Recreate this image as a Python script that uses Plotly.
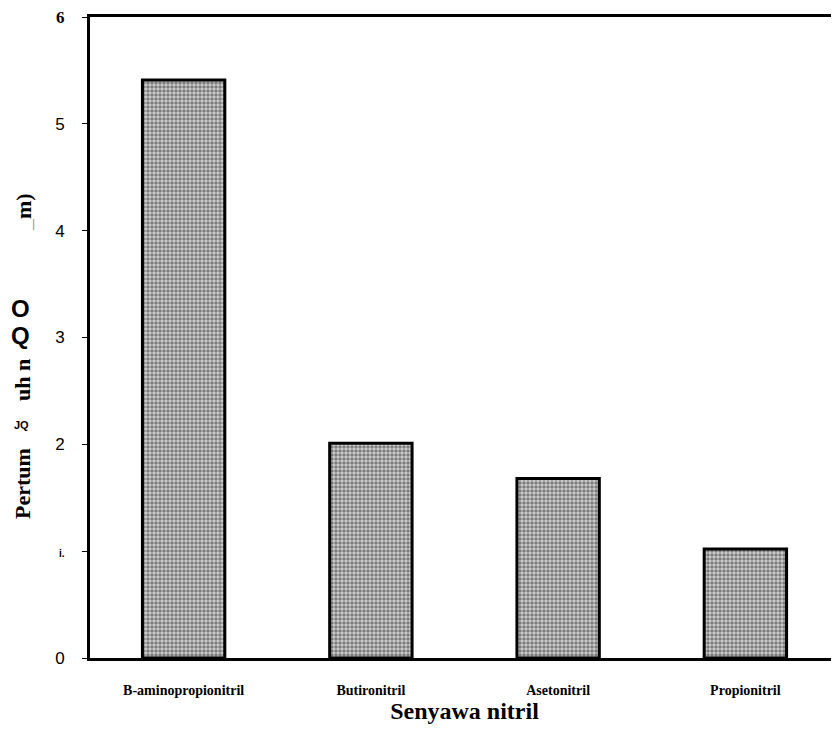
import plotly.graph_objects as go

categories = ["B-aminopropionitril", "Butironitril", "Asetonitril", "Propionitril"]
values = [5.41, 2.01, 1.68, 1.02]
ytick_vals = [0, 1, 2, 3, 4, 5, 6]
ytick_text = ["0", "<span style='font-size:10px'><b>i.</b></span>", "2", "3", "4", "5",
              "<span style='font-family:Liberation Serif;font-weight:bold;font-size:17px'>6</span>"]
x_title = "Senyawa nitril"

# page body has an 8px offset; figure sized so its right/bottom meet the window edge
OFF = 8
W, H = 831, 740
L, R, T, B = 82, 0, 9, 90
pw, ph = W - L - R, H - T - B

def px(sx):
    return (sx - OFF - L) / pw

def py(sy):
    return (H - B - (sy - OFF)) / ph

fig = go.Figure()
fig.add_trace(go.Bar(
    x=categories, y=values,
    marker=dict(
        color="#8c8c8c",
        line=dict(color="black", width=3),
        pattern=dict(shape=".", size=4, solidity=0.6, fgcolor="#262626", bgcolor="#d2d2d2"),
    ),
    width=0.44,
))

serif = "Liberation Serif, Times New Roman, serif"
ann = [
    dict(text="<b>Pertum</b>", x=px(22), y=py(484), textangle=-90,
         font=dict(family=serif, size=22, color="black")),
    dict(text="<b>JQ</b>", x=px(21), y=py(425), textangle=0,
         font=dict(family="Liberation Sans, Arial", size=11, color="black")),
    dict(text="<b>uh n</b>", x=px(22), y=py(380), textangle=-90,
         font=dict(family=serif, size=22, color="black")),
    dict(text="<b>Q</b>", x=px(20), y=py(335), textangle=0,
         font=dict(family="Liberation Sans, Arial", size=24, color="black")),
    dict(text="<b>O</b>", x=px(20), y=py(308), textangle=0,
         font=dict(family="Liberation Sans, Arial", size=24, color="black")),
    dict(text="<span style='color:#999'>_</span><b>m)</b>", x=px(23), y=py(212), textangle=-90,
         font=dict(family=serif, size=22, color="black")),
]
for a in ann:
    a.update(xref="paper", yref="paper", showarrow=False, xanchor="center", yanchor="middle")

fig.update_layout(
    width=W, height=H,
    margin=dict(l=L, r=R, t=T, b=B, autoexpand=False),
    paper_bgcolor="white", plot_bgcolor="white",
    showlegend=False,
    bargap=0.56,
    annotations=ann,
    xaxis=dict(
        automargin=False,
        showline=True, linecolor="black", linewidth=3, mirror=True,
        showgrid=False, ticks="outside", ticklen=17, tickcolor="rgba(0,0,0,0)",
        tickfont=dict(family=serif, size=14, color="black", weight="bold"),
        title=dict(text=x_title, font=dict(family=serif, size=24, color="black", weight="bold"),
                   standoff=5),
    ),
    yaxis=dict(
        automargin=False,
        range=[0, 6], showline=True, linecolor="black", linewidth=3, mirror=False,
        showgrid=False, zeroline=False, ticks="outside", ticklen=5, tickcolor="black",
        tickvals=ytick_vals, ticktext=ytick_text,
        tickfont=dict(family="Liberation Sans, Arial", size=17, color="black"),
        ticklabelstandoff=14, ticklabeloverflow="allow",
    ),
)
fig.write_html("out.html")
